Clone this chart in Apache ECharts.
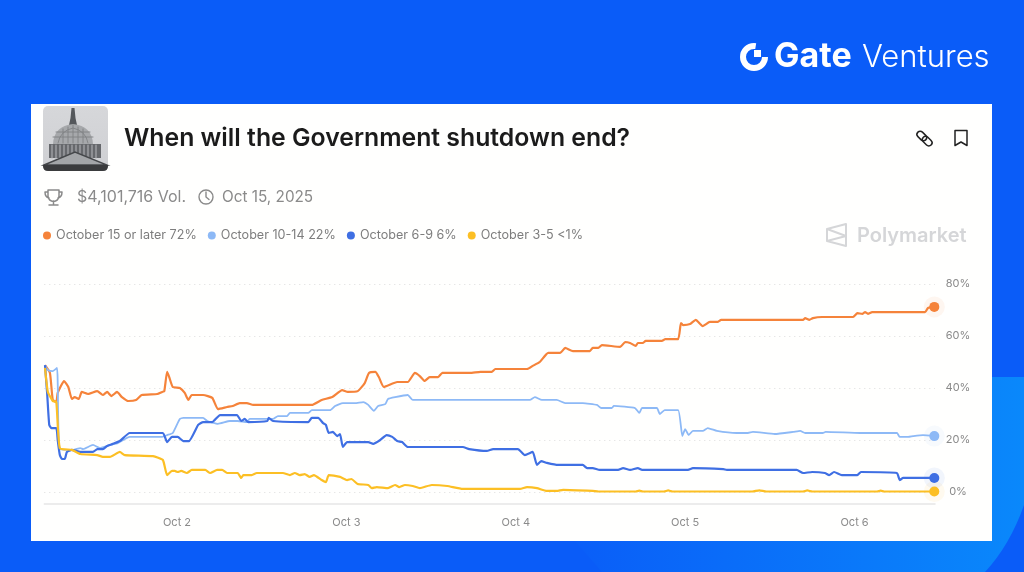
<!DOCTYPE html>
<html>
<head>
  <meta charset="utf-8">
  <title>When will the Government shutdown end?</title>
  <script src="https://cdn.jsdelivr.net/npm/echarts@6/dist/echarts.min.js"></script>
  <style>
    html, body { margin: 0; padding: 0; background: #0a5cf8; }
    #main { width: 1024px; height: 572px; }
  </style>
</head>
<body>
  <div id="main"></div>
  <script type="text/javascript">
    // hours are counted from Oct 1 00:00, values are percent
    var tickHours = [24, 48, 72, 96, 120]
    var tickLabels = ['Oct 2', 'Oct 3', 'Oct 4', 'Oct 5', 'Oct 6']
    var seriesNames = ['October 15 or later 72%', 'October 10-14 22%', 'October 6-9 6%', 'October 3-5 <1%']
    var seriesColors = ['#f5833a', '#8db9f6', '#3f6fe3', '#fcbf24']

    var orangeHours = [5.3, 6, 6.4, 6.9, 7.1, 8, 8.6, 9.1, 9.5, 10.1, 10.5, 11.4, 12.7, 13.5, 14.1, 14.7, 15.5, 16.2, 17.1, 18.2, 19, 21.2, 21.9, 22.2, 22.6, 22.9, 23.4, 24.4, 25.1, 25.6, 26.1, 27.7, 29, 29.8, 31.1, 31.9, 32.9, 33.9, 34.8, 38.6, 43.1, 44.5, 46, 47.4, 48.2, 49.6, 50.6, 51.2, 52.1, 52.6, 53.3, 55.2, 56.7, 57.7, 58.4, 59.1, 59.8, 61, 61.6, 65.5, 67, 68.6, 69.1, 73.6, 74.4, 75.4, 76.6, 78.3, 79, 80.1, 82.5, 82.9, 83.7, 84.2, 86.8, 87.5, 88.2, 89, 89.3, 90, 90.4, 92.7, 93.2, 95, 95.4, 95.7, 96.7, 97.5, 98.5, 99.5, 100.6, 101.1, 112.7, 113, 113.6, 114.1, 115.4, 119.8, 120.4, 121.1, 121.5, 121.9, 122.5, 130, 130.4, 131.3]
    var orangeValues = [48.8, 45.8, 35.4, 34.6, 38.1, 42.7, 40.4, 35.8, 36.5, 35.8, 38.5, 37.7, 38.8, 37.3, 38.5, 36.9, 38.5, 36.5, 35, 35.4, 37.3, 37.7, 38.5, 38.8, 46.2, 44.2, 40.4, 40, 38.1, 35.4, 37.3, 37.3, 36.2, 31.9, 32.7, 33.1, 34.2, 34.2, 33.5, 33.5, 33.5, 35.4, 36.5, 39.2, 38.5, 38.8, 41.9, 45.8, 46.2, 44.2, 40.4, 42.3, 42.3, 45.8, 44.6, 42.7, 44.2, 44.2, 45.8, 45.8, 46.2, 46.2, 47.3, 47.3, 48.5, 50, 53.5, 53.5, 55.4, 54.2, 54.2, 55.4, 55.4, 56.5, 55.8, 57.7, 57.3, 56.2, 57.3, 57.3, 58.1, 58.1, 58.8, 58.8, 65, 64.2, 64.6, 66.2, 63.8, 65.4, 65.4, 66.2, 66.2, 66.9, 66.2, 66.9, 67.3, 67.3, 68.8, 68.5, 69.2, 68.5, 69.2, 69.2, 70.8, 71.2]

    var lightHours = [5.3, 5.7, 6.4, 7, 7.1, 7.4, 9.3, 10.3, 10.7, 12.1, 13.1, 14.5, 15.6, 17.3, 21.9, 22.6, 23.4, 24.4, 24.9, 27.7, 28.3, 29.8, 31.5, 32.6, 33.9, 34.3, 37.6, 38.3, 39.6, 40, 42.6, 43.1, 45.7, 46.4, 47.5, 49.2, 50.4, 51.1, 51.9, 52.5, 53.5, 53.9, 54.9, 56.7, 57.4, 74, 74.7, 75.7, 77.8, 79, 81.5, 83.5, 84.1, 85.6, 85.9, 88.9, 89.5, 89.9, 92, 92.4, 93.1, 95, 95.6, 96, 96.5, 97.1, 98.5, 99.2, 100.5, 103.3, 104.9, 105.6, 108.7, 111.3, 112.3, 113, 115.5, 115.9, 120.8, 121.5, 126, 126.4, 127.6, 128.3, 129.7, 131.3]
    var lightValues = [48.8, 46.9, 46.5, 47.7, 41.9, 16.5, 16.2, 16.9, 16.5, 18.1, 16.9, 18.1, 18.8, 21.2, 21.2, 21.9, 22.7, 28.1, 28.5, 28.5, 27.3, 26.2, 27.3, 27.3, 26.9, 28.1, 28.1, 29.2, 29.2, 30.4, 30.4, 31.5, 31.5, 33.1, 34.2, 34.2, 34.6, 33.5, 31.2, 33.1, 33.8, 35.8, 36.5, 37.3, 35.4, 35.4, 36.5, 35.4, 35.4, 34.2, 34.2, 33.5, 32.3, 32.3, 33.1, 32.3, 30.4, 32.3, 32.3, 30, 31.5, 31.5, 21.5, 24.2, 21.9, 23.5, 23.5, 24.6, 23.5, 22.7, 22.7, 23.1, 22.3, 23.1, 23.5, 22.7, 22.7, 23.1, 22.7, 22.7, 22.7, 21.2, 21.2, 21.5, 21.9, 21.5]

    var blueHours = [5.3, 5.6, 5.9, 6.2, 6.9, 7.1, 7.4, 7.7, 8.1, 8.4, 9.1, 10.3, 12.1, 12.7, 13.5, 14.1, 14.9, 15.9, 17.3, 22, 22.6, 23.3, 24.1, 24.9, 25.7, 27, 27.7, 29, 30.1, 32.5, 33.1, 33.6, 34.1, 36.8, 37, 37.6, 42.6, 43.1, 44, 44.7, 45.1, 45.5, 46.1, 46.7, 47.1, 47.5, 48.1, 51.1, 51.8, 52.8, 53.7, 54.5, 55.2, 55.9, 56.7, 64.5, 65.4, 67.9, 68.8, 72.3, 73.3, 74.4, 75, 75.6, 76.4, 78, 81.5, 82.1, 82.9, 83.9, 86.5, 87.2, 88.2, 89.3, 89.9, 96.4, 97.1, 101.4, 101.9, 111.8, 112.7, 114, 115.8, 116.4, 117.1, 118.2, 120.4, 120.9, 126, 126.4, 126.9, 131.3]
    var blueValues = [48.8, 38.1, 25.8, 24.6, 24.6, 20, 14.2, 12.7, 12.7, 15.4, 16.2, 15.4, 15.4, 16.5, 16.5, 17.7, 18.5, 19.6, 22.7, 22.7, 19.2, 21.2, 21.2, 19.6, 19.6, 25.8, 26.9, 26.9, 29.6, 29.6, 27.3, 28.1, 26.9, 27.3, 28.5, 27.3, 26.9, 28.5, 28.5, 26.5, 25.8, 22.7, 23.1, 21.5, 22.3, 17.3, 19.2, 19.2, 18.5, 20, 21.9, 21.2, 19.6, 19.2, 17.3, 17.3, 16.5, 15.8, 16.5, 16.5, 14.2, 15.4, 10.4, 11.9, 11.2, 10.4, 10.4, 9.2, 9.2, 8.5, 8.5, 9.2, 8.5, 9.2, 8.5, 8.5, 9.2, 8.8, 8.5, 8.5, 7.3, 7.7, 7.3, 6.5, 7.7, 6.5, 6.5, 7.7, 7.3, 4.6, 5.4, 5.4]

    var yellowHours = [5.3, 5.7, 6.4, 6.9, 7.4, 9.1, 10.3, 12.7, 13.5, 14.5, 15.9, 16.6, 20.6, 22, 22.6, 23.3, 23.7, 24.1, 24.6, 25.4, 26.1, 28, 28.7, 29.7, 30.4, 31.1, 32.6, 33.1, 33.4, 34.6, 35.3, 39, 40, 40.7, 41.4, 42.1, 42.8, 43.4, 44.5, 45.1, 45.5, 47.1, 48.1, 48.7, 49.6, 51.1, 51.6, 52.3, 53.9, 54.9, 55.5, 56.3, 57.4, 58.4, 60.1, 62.3, 64.5, 71.6, 72.6, 73.6, 75, 76.4, 77.8, 78.7, 82.9, 83.7, 89, 89.5, 90, 93, 93.6, 94.2, 105.5, 106.5, 107.5, 112.7, 113.3, 114, 123.2, 123.7, 124.2, 131.3]
    var yellowValues = [47.7, 38.5, 35, 34.6, 16.9, 16.2, 14.6, 14.2, 13.5, 13.5, 15.4, 14.2, 13.8, 12.3, 6.5, 8.1, 8.1, 7.7, 8.1, 7.3, 8.5, 8.5, 7.3, 8.5, 8.5, 7.3, 7.3, 5.4, 6.5, 6.5, 7.3, 7.3, 6.5, 7.3, 6.5, 6.9, 5.8, 6.5, 4.6, 3.8, 6.5, 5.8, 4.6, 5, 3.1, 2.7, 1.5, 1.9, 1.5, 2.7, 1.9, 2.7, 2.3, 1.5, 2.7, 2.3, 1.2, 1.2, 1.2, 1.9, 1.5, 0.4, 0.4, 0.8, 0.4, 0.2, 0.2, 0.5, 0.2, 0.2, 0.6, 0.2, 0.2, 0.6, 0.2, 0.2, 0.6, 0.2, 0.2, 0.5, 0.2, 0.2]

    var allHours = [orangeHours, lightHours, blueHours, yellowHours]
    var allValues = [orangeValues, lightValues, blueValues, yellowValues]

    function zip(hours, values) {
      var n = Math.min(hours.length, values.length)
      var out = []
      for (var i = 0; i < n; i++) out.push([hours[i], values[i]])
      return out
    }

    var series = []
    seriesNames.forEach(function (name, i) {
      var points = zip(allHours[i], allValues[i])
      var last = points[points.length - 1]
      // halo and dot at the end of each line
      series.push({
        type: 'scatter', name: name + ' halo', data: [last], symbolSize: 21, clip: false, silent: true, z: 3,
        itemStyle: { color: seriesColors[i], opacity: 0.07 }
      })
      series.push({
        type: 'line', name: name, data: points, showSymbol: false, smooth: 0.15, z: 4,
        lineStyle: { color: seriesColors[i], width: i == 1 ? 1.8 : 2.2 },
        itemStyle: { color: seriesColors[i] }
      })
      series.push({
        type: 'scatter', name: name + ' dot', data: [last], symbolSize: 10, clip: false, silent: true, z: 5,
        itemStyle: { color: seriesColors[i], opacity: 1 }
      })
    })

    var grey = '#8a8a8a'
    var font = 'Inter, "Noto Sans", sans-serif'

    function label(x, y, text, size, color, weight, family) {
      return {
        type: 'text', x: x, y: y,
        style: { text: text, fontSize: size, fill: color, fontWeight: weight || 400, fontFamily: family || font, verticalAlign: 'middle' }
      }
    }
    // the graphic component has no svg path type, so each path gets a registered shape
    var pathCount = 0
    function pathShape(data, style) {
      var name = 'svgPath' + (pathCount++)
      echarts.graphic.registerShape(name, echarts.graphic.extendPath(data))
      return { type: name, style: style }
    }
    function icon(data, stroke, width) {
      return pathShape(data, { fill: 'none', stroke: stroke, lineWidth: width || 1.5, lineJoin: 'round', lineCap: 'round' })
    }
    function chainLink(cx, cy) {
      return {
        type: 'rect', x: cx, y: cy, rotation: -Math.PI / 4,
        shape: { x: -5.5, y: -3.2, width: 11, height: 6.4, r: 3.2 },
        style: { fill: 'none', stroke: '#222222', lineWidth: 1.5 }
      }
    }

    var graphics = [
      // lighter sweep in the bottom right of the blue background
      pathShape('M575 541 Q590 558 602 572 L985 572 Q1010 545 1024 505 L1024 377 L992 377 L992 541 Z', {
        fill: new echarts.graphic.LinearGradient(0, 0, 1, 0, [
          { offset: 0, color: '#0a5ef8' }, { offset: 1, color: '#0a88fb' }
        ])
      }),
      { type: 'rect', shape: { x: 31, y: 104, width: 961, height: 437 }, style: { fill: '#fffffe' } },

      // Capitol thumbnail
      {
        type: 'rect', shape: { x: 43, y: 106, width: 65, height: 65, r: 5 },
        style: {
          fill: new echarts.graphic.LinearGradient(0, 0, 0, 1, [
            { offset: 0, color: '#d6d7da' }, { offset: 1, color: '#cfd0d3' }
          ])
        }
      },
      pathShape('M71.5 108 L74.5 108 L75.5 118 L77 125 L69 125 L70.5 118 Z', { fill: '#55585c' }),
      pathShape('M53 144 Q54 126 73 124 Q92 126 93 144 Z', { fill: '#a6a8ab' }),
      icon('M58 143 Q60 131 73 128 Q86 131 88 143 M53 137 H93 M56 132 H90 M63 143 V129 M68 143 V127 M73 143 V125 M78 143 V127 M83 143 V129', '#808285', 0.9),
      { type: 'rect', shape: { x: 49, y: 144, width: 52, height: 14 }, style: { fill: '#66686c' } },
      icon('M52 145 V158 M56 145 V158 M60 145 V158 M64 145 V158 M68 145 V158 M72 145 V158 M76 145 V158 M80 145 V158 M84 145 V158 M88 145 V158 M92 145 V158 M96 145 V158', '#a9abae', 1.2),
      pathShape('M44 165 L75 152 L107 165 Z', { fill: '#a3a5a8', stroke: '#45474a', lineWidth: 1.4 }),
      pathShape('M43 165 L108 165 L108 166 Q108 171 103 171 L48 171 Q43 171 43 166 Z', { fill: '#3a3b3d' }),

      label(124, 139, 'When will the Government shutdown end?', 24.8, '#1b1b1b', 600),
      label(77, 197, '$4,101,716 Vol.', 16, grey),
      label(222, 197, 'Oct 15, 2025', 15.3, grey),

      // trophy, clock, link, bookmark
      icon('M48 190 h11 v6 a5.5 5.5 0 0 1 -11 0 Z M48 192 h-3 q0 5 4 6 M59 192 h3 q0 5 -4 6 M53.5 201 v3 M49 205 h9', grey, 1.5),
      { type: 'circle', shape: { cx: 206, cy: 197, r: 7 }, style: { fill: 'none', stroke: grey, lineWidth: 1.4 } },
      icon('M206 192 v5 l3 2.5', grey, 1.4),
      chainLink(921.8, 136),
      chainLink(927.2, 141.2),
      icon('M955 130.5 h12 v15 l-6 -3.5 l-6 3.5 Z', '#222222', 1.5),

      // Polymarket watermark
      icon('M827 229 L846 224 V246 L827 241 Z M827 229 L846 236 L827 241', '#d5d6d8', 2),
      label(857, 236, 'Polymarket', 20, '#d5d6d8', 600),

      // Gate Ventures logo
      { type: 'arc', shape: { cx: 754, cy: 57, r: 11, startAngle: 0, endAngle: Math.PI * 1.55, clockwise: true }, style: { fill: 'none', stroke: '#ffffff', lineWidth: 6 } },
      { type: 'rect', shape: { x: 754, y: 50, width: 7, height: 7 }, style: { fill: '#ffffff' } },
      label(774, 57, 'Gate', 34, '#ffffff', 700),
      label(862, 58, 'Ventures', 31, '#ffffff', 300)
    ]

    var myChart = echarts.init(document.getElementById('main'))
    myChart.setOption({
      animation: false,
      backgroundColor: '#0a5cf8',
      textStyle: { fontFamily: font },
      graphic: { z: -1, elements: graphics },
      legend: {
        left: 38, top: 224,
        data: seriesNames,
        icon: 'circle', itemWidth: 8, itemHeight: 8, itemGap: 11,
        textStyle: { fontSize: 12.6, color: '#7d7d7d', fontFamily: font }
      },
      grid: { left: 44.3, width: 890.7, top: 284, height: 208 },
      xAxis: {
        type: 'value', min: 5.2, max: 131.4,
        offset: 12,
        splitLine: { show: false },
        axisTick: { show: false },
        axisLine: { show: true, onZero: false, lineStyle: { color: '#e6e6e6', width: 1.5 } },
        axisLabel: {
          customValues: tickHours, margin: 13, fontSize: 11, color: grey, fontFamily: font,
          formatter: function (v) { return tickLabels[tickHours.indexOf(v)] }
        }
      },
      yAxis: {
        type: 'value', position: 'right', min: 0, max: 80, interval: 20,
        axisLine: { show: false },
        axisTick: { show: false },
        splitLine: { lineStyle: { color: '#dcdcdc', type: [1, 4], width: 1.2 } },
        axisLabel: { formatter: '{value}%', align: 'center', margin: 23, fontSize: 11, color: grey, fontFamily: font, padding: [2, 0, 0, 0] }
      },
      series: series
    })
  </script>
</body>
</html>
